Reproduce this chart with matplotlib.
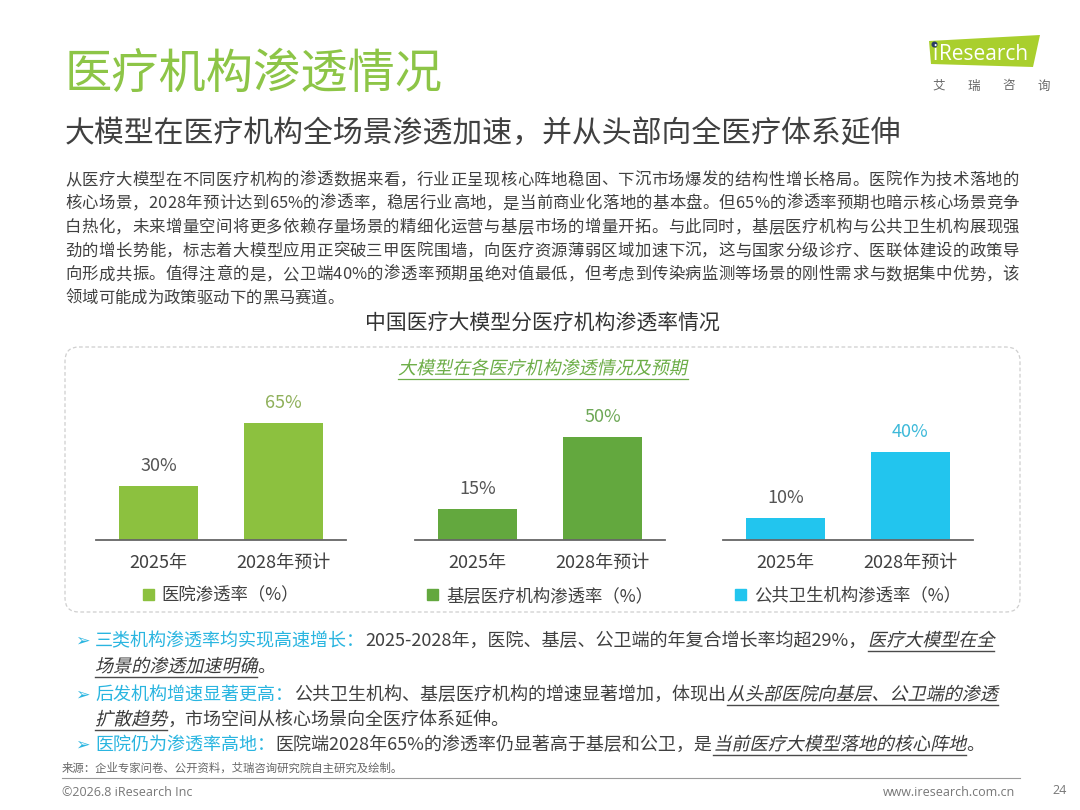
import re
import numpy as np
import matplotlib.pyplot as plt
from matplotlib.patches import FancyBboxPatch, Polygon, Patch, Circle
from matplotlib.patheffects import AbstractPathEffect
from matplotlib.transforms import Affine2D
from matplotlib.font_manager import FontProperties, findfont, get_font

plt.rcParams['font.family'] = ['Noto Sans CJK SC', 'DejaVu Sans']

# 数据
years = ['2025年', '2028年预计']
hospital = [30, 65]
primary = [15, 50]
public = [10, 40]
series_names = ['医院渗透率（%）', '基层医疗机构渗透率（%）', '公共卫生机构渗透率（%）']

title = '医疗机构渗透情况'
subtitle = '大模型在医疗机构全场景渗透加速，并从头部向全医疗体系延伸'
para = ['从医疗大模型在不同医疗机构的渗透数据来看，行业正呈现核心阵地稳固、下沉市场爆发的结构性增长格局。医院作为技术落地的',
        '核心场景，2028年预计达到65%的渗透率，稳居行业高地，是当前商业化落地的基本盘。但65%的渗透率预期也暗示核心场景竞争',
        '白热化，未来增量空间将更多依赖存量场景的精细化运营与基层市场的增量开拓。与此同时，基层医疗机构与公共卫生机构展现强',
        '劲的增长势能，标志着大模型应用正突破三甲医院围墙，向医疗资源薄弱区域加速下沉，这与国家分级诊疗、医联体建设的政策导',
        '向形成共振。值得注意的是，公卫端40%的渗透率预期虽绝对值最低，但考虑到传染病监测等场景的刚性需求与数据集中优势，该',
        '领域可能成为政策驱动下的黑马赛道。']
chart_title = '中国医疗大模型分医疗机构渗透率情况'
inner_title = '大模型在各医疗机构渗透情况及预期'
bullets = [
    [('三类机构渗透率均实现高速增长：', 'h'), ('2025-2028年，医院、基层、公卫端的年复合增长率均超29%，', 'n'), ('医疗大模型在全', 'u')],
    [('场景的渗透加速明确', 'u'), ('。', 'n')],
    [('后发机构增速显著更高：', 'h'), ('公共卫生机构、基层医疗机构的增速显著增加，体现出', 'n'), ('从头部医院向基层、公卫端的渗透', 'u')],
    [('扩散趋势', 'u'), ('，市场空间从核心场景向全医疗体系延伸。', 'n')],
    [('医院仍为渗透率高地：', 'h'), ('医院端2028年65%的渗透率仍显著高于基层和公卫，是', 'n'), ('当前医疗大模型落地的核心阵地', 'u'), ('。', 'n')],
]
source = '来源：企业专家问卷、公开资料，艾瑞咨询研究院自主研究及绘制。'

GREEN = '#8DC547'
CYAN = '#2AB5E0'
DARK = '#404040'


class Slant(AbstractPathEffect):
    # 假斜体：字形路径先做错切
    def __init__(self, deg=12):
        super().__init__()
        self.deg = deg

    def draw_path(self, renderer, gc, tpath, affine, rgbFace=None):
        renderer.draw_path(gc, tpath, Affine2D().skew_deg(self.deg, 0) + affine, rgbFace)


def advance(s, size, weight='normal'):
    fp = FontProperties(family='Noto Sans CJK SC', size=size, weight=weight)
    font = get_font(findfont(fp))
    font.set_size(size, 100)
    return sum(font.load_char(ord(c)).linearHoriAdvance for c in s) / 65536


W, H = 1080, 810
fig = plt.figure(figsize=(10.8, 8.1), dpi=100)
bg = fig.add_axes([0, 0, 1, 1])
bg.set_xlim(0, W)
bg.set_ylim(H, 0)
bg.axis('off')

# 标题
bg.text(65, 75, title, fontsize=34, color=GREEN, va='center')
bg.text(65, 133, subtitle, fontsize=21.5, color=DARK, va='center')

# logo
bg.add_patch(Polygon([(929, 41), (1040, 35), (1033, 67), (931, 64)], closed=True, color='#A9CF2D', lw=0))
bg.text(932, 55, 'i', fontsize=15, color='white', va='center', family='Open Sans')
bg.add_patch(Circle((934.5, 44.5), 2.3, color='#2B3A67'))
bg.text(939, 55, 'Research', fontsize=15, color='white', va='center', family='Open Sans')
for k, ch in enumerate('艾瑞咨询'):
    bg.text(939 + k * 35, 86, ch, fontsize=9, color='#666666', ha='center', va='center')

# 正文（两端对齐）
psize = 11.8
for i, line in enumerate(para):
    y = 180 + 23.7 * i
    adv = [advance(c, psize) for c in line]
    gap = (1019 - 65 - sum(adv)) / (len(line) - 1) if i < len(para) - 1 else 0
    x = 65
    for c, a in zip(line, adv):
        bg.text(x, y, c, fontsize=psize, color=DARK, va='center')
        x += a + gap

bg.text(542, 324, chart_title, fontsize=15, color='#333333', ha='center', va='center')

# 虚线圆角框
bg.add_patch(FancyBboxPatch((65, 347), 955, 265, boxstyle='round,pad=0,rounding_size=14',
                            fc='none', ec='#cfcfcf', lw=0.9, ls=(0, (3, 2))))
bg.text(542, 369, inner_title, fontsize=13, color='#6DAE48', ha='center', va='center',
        path_effects=[Slant(12)])
tw = advance(inner_title, 13)
bg.plot([542 - tw / 2, 542 + tw / 2 + 2], [379, 379], color='#6DAE48', lw=0.9)

# 三个柱状图
panels = [(96, hospital, '#8CC13F', '#8FB05A', 100, series_names[0]),
          (415, primary, '#63A83E', '#6EA857', 87, series_names[1]),
          (723, public, '#22C5EE', '#3DB9D9', 81.8, series_names[2])]
for left, vals, col, hicol, top, name in panels:
    ax = fig.add_axes([left / W, (H - 540) / H, 250 / W, 180 / H])
    ax.patch.set_alpha(0)
    bars = ax.bar(range(len(years)), vals, width=0.625, color=col)
    ax.set_xlim(-0.5, 1.5)
    ax.set_ylim(0, top)
    for s in ['top', 'right', 'left']:
        ax.spines[s].set_visible(False)
    ax.spines['bottom'].set_color('#666666')
    ax.spines['bottom'].set_linewidth(1.3)
    ax.set_yticks([])
    ax.set_xticks(range(len(years)), years)
    ax.tick_params(axis='x', length=0, pad=10, labelsize=13, labelcolor=DARK)
    for j, (b, v) in enumerate(zip(bars, vals)):
        ax.annotate(f'{v}%', (b.get_x() + b.get_width() / 2, v), xytext=(0, 14.4),
                    textcoords='offset points', ha='center', va='center', fontsize=13,
                    color='#555555' if j == 0 else hicol)
    ax.legend([Patch(color=col)], [name], loc='center', bbox_to_anchor=(0.5, -0.31),
              frameon=False, fontsize=12.5, handlelength=0.65, handleheight=0.65,
              handletextpad=0.45, labelcolor=DARK)

# 要点
bsize = 13
rows_y = [641, 667, 695, 720, 745]
for k, (parts, y) in enumerate(zip(bullets, rows_y)):
    if parts[0][1] == 'h':
        bg.text(82, y, '➢', fontsize=12.5, color=CYAN, ha='center', va='center', family='DejaVu Sans')
    x = 95
    for s, kind in parts:
        if kind == 'h':
            bg.text(x, y, s, fontsize=bsize, color=CYAN, va='center')
            w = advance(s, bsize)
        elif kind == 'n':
            bg.text(x, y, s, fontsize=bsize, color=DARK, va='center')
            w = advance(s, bsize)
        else:
            bg.text(x, y, s, fontsize=bsize, color='#3A3A3A', va='center', fontweight='medium',
                    path_effects=[Slant(13)])
            w = advance(s, bsize, 'medium')
            bg.plot([x, x + w], [y + 9.5, y + 9.5], color='#4A4A4A', lw=1)
        x += w

bg.text(62, 768, source, fontsize=8.2, color='#666666', va='center')
bg.plot([62, 1020], [778, 778], color='#9a9a9a', lw=0.8)
bg.text(62, 792, '©2026.8 iResearch Inc', fontsize=9, color='#777777', va='center', family='Open Sans')
bg.text(1015, 792, 'www.iresearch.com.cn', fontsize=9, color='#777777', va='center', ha='right', family='Open Sans')
bg.text(1060, 790, '24', fontsize=9, color='#777777', va='center', ha='center', family='Open Sans')

fig.savefig('out.png', dpi=100)
